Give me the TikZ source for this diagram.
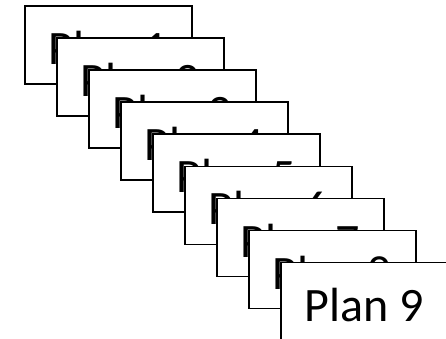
\documentclass[tikz,border=0pt]{standalone}
\usepackage{fontspec}
\setmainfont{Carlito}
\begin{document}
\begin{tikzpicture}[x=1pt,y=-1pt,
  planbox/.style={draw=black, fill=white, line width=1.6pt, minimum width=167pt, minimum height=78pt, inner sep=0pt, anchor=north west, font=\fontsize{48}{50}\selectfont}]
\useasboundingbox (0,0) rectangle (446,339);
\foreach \i in {1,...,9}{
  \node[planbox] (p\i) at ({24+32*(\i-1)},{5+32.1*(\i-1)}) {\raisebox{-3pt}[\height][0pt]{Plan \i}};
}
\end{tikzpicture}
\end{document}
